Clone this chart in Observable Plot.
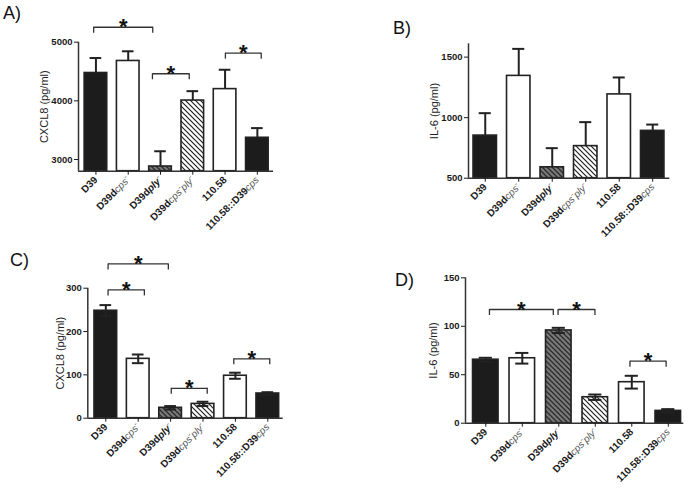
<!DOCTYPE html>
<html><head><meta charset="utf-8">
<script src="https://cdn.jsdelivr.net/npm/d3@7"></script>
<script src="https://cdn.jsdelivr.net/npm/@observablehq/plot@0.6"></script>
<style>
body{margin:0;background:#fff;}
#fig{position:relative;width:689px;height:489px;background:#fff;font-family:"Liberation Sans",Arial,sans-serif;overflow:hidden}
.panel{position:absolute}
.plab{position:absolute;font-size:18px;line-height:18px;color:#111;font-family:"Liberation Sans",Arial,sans-serif}
</style></head><body>
<svg width="0" height="0" style="position:absolute"><defs>
<pattern id="hatchGray" patternUnits="userSpaceOnUse" width="5" height="5"><rect width="5" height="5" fill="#7a7a7a"/><path d="M-1,-1L6,6M-1,4L1,6M4,-1L6,1" stroke="#2b2b2b" stroke-width="1.3"/></pattern>
<pattern id="hatchWhite" patternUnits="userSpaceOnUse" width="5" height="5"><rect width="5" height="5" fill="#ffffff"/><path d="M-1,-1L6,6M-1,4L1,6M4,-1L6,1" stroke="#222" stroke-width="1.2"/></pattern>
</defs></svg>
<div id="fig"></div>
<script>
// ---- data ----
const strains = ["D39", "D39dcps⁻", "D39dply⁻", "D39dcps⁻ply⁻", "110.58", "110.58::D39cps"];
const fills = ["#1c1c1c", "#ffffff", "url(#hatchGray)", "url(#hatchWhite)", "#ffffff", "#1c1c1c"];

const cxcl8A = [4475, 4680, 2880, 4005, 4200, 3370];
const cxcl8AErr = [255, 165, 260, 160, 330, 165];
const il6B = [852, 1345, 590, 765, 1192, 891];
const il6BErr = [185, 223, 158, 198, 140, 52];
const cxcl8C = [248, 137, 24, 33, 98, 57];
const cxcl8CErr = [13, 10, 4, 5, 7, 3];
const il6D = [65.5, 67, 95.7, 26.8, 42.3, 12.7];
const il6DErr = [2, 5.5, 2.7, 2.8, 6.6, 1.8];

const ticksA = [3000, 4000, 5000];
const ticksB = [500, 1000, 1500];
const ticksC = [0, 100, 200, 300];
const ticksD = [0, 50, 100, 150];

// significance brackets: x in category-index units, y in data units
const sigA = [{x1: -0.07, x2: 1.76, y: 5255}, {x1: 1.75, x2: 2.89, y: 4462}, {x1: 4.01, x2: 5.12, y: 4813}];
const sigB = [];
const sigC = [{x1: 0.07, x2: 1.93, y: 356}, {x1: 0.07, x2: 1.19, y: 296}, {x1: 2.02, x2: 3.13, y: 69}, {x1: 3.95, x2: 5.06, y: 137}];
const sigD = [{x1: 0.1, x2: 1.85, y: 117.3}, {x1: 1.98, x2: 2.99, y: 117.3}, {x1: 3.95, x2: 4.94, y: 64}];

const fig = document.getElementById("fig");
const FONT = '"Liberation Sans", Arial, sans-serif';
const svgns = "http://www.w3.org/2000/svg";

function addSpan(t, text, attrs) {
  const ts = document.createElementNS(svgns, "tspan");
  ts.textContent = text;
  for (const k in attrs) ts.setAttribute(k, attrs[k]);
  t.appendChild(ts);
}

function panel(cfg) {
  const rows = strains.map((s, i) => ({i, s, v: cfg.values[i], e: cfg.errs[i]}));
  const [y0, y1] = cfg.yDomain;
  const fh = cfg.height - cfg.marginTop - cfg.marginBottom;
  const unit = (y1 - y0) / fh;
  const hw = 0.35, cw = 0.18;
  const legs = cfg.brackets.flatMap(b => [{x: b.x1, y: b.y}, {x: b.x2, y: b.y}]);
  const plot = Plot.plot({
    width: cfg.width, height: cfg.height,
    marginLeft: cfg.marginLeft, marginRight: cfg.marginRight,
    marginTop: cfg.marginTop, marginBottom: cfg.marginBottom,
    x: {type: "linear", domain: cfg.xDomain},
    y: {domain: cfg.yDomain},
    style: {fontFamily: FONT, background: "transparent", overflow: "visible", color: "#222"},
    marks: [
      Plot.rect(rows, {x1: d => d.i - hw, x2: d => d.i + hw, y1: () => y0, y2: "v", fill: d => fills[d.i], stroke: "#222", strokeWidth: 1.6}),
      Plot.ruleX(rows, {x: "i", y1: d => cfg.twoSided ? d.v - d.e : d.v, y2: d => d.v + d.e, stroke: "#222", strokeWidth: 2}),
      Plot.ruleY(rows, {y: d => d.v + d.e, x1: d => d.i - cw, x2: d => d.i + cw, stroke: "#222", strokeWidth: 2}),
      cfg.twoSided ? Plot.ruleY(rows, {y: d => d.v - d.e, x1: d => d.i - cw, x2: d => d.i + cw, stroke: "#222", strokeWidth: 2}) : null,
      Plot.ruleY([y0], {stroke: "#333", strokeWidth: 1.5}),
      Plot.ruleX([cfg.xDomain[0]], {stroke: "#333", strokeWidth: 1.5}),
      Plot.axisY({ticks: cfg.yTicks, tickFormat: d => String(d), tickSize: 4, tickPadding: 2, fontSize: 9.5, fontWeight: "bold", label: null, color: "#1a1a1a"}),
      Plot.axisX({ticks: d3.range(strains.length), tickFormat: i => strains[i], tickRotate: -45, tickSize: 4, tickPadding: 3, fontSize: 10, fontWeight: "bold", label: null, color: "#1a1a1a"}),
      Plot.text([cfg.yLabel], {text: d => d, frameAnchor: "left", textAnchor: "middle", lineAnchor: "middle", dx: -cfg.labelOffset, rotate: -90, fontSize: 11, fill: "#222"}),
      Plot.link(cfg.brackets, {x1: "x1", x2: "x2", y1: "y", y2: "y", stroke: "#333", strokeWidth: 1.3}),
      Plot.ruleX(legs, {x: "x", y1: "y", y2: d => d.y - 6 * unit, stroke: "#333", strokeWidth: 1.3}),
      Plot.text(cfg.brackets, {x: d => (d.x1 + d.x2) / 2, y: "y", text: () => "*", fontSize: 22, fontWeight: "bold", fill: "#111", dy: 0})
    ]
  });
  // italic gene names and superscript minus inside tick labels
  plot.querySelectorAll('g[aria-label="x-axis tick label"] text').forEach(t => {
    const lbl = t.textContent;
    const parts = lbl.split(/(cps|ply|⁻)/).filter(Boolean);
    t.textContent = "";
    for (const p of parts) {
      if (p === "⁻") {
        addSpan(t, "-", {"baseline-shift": "super", "font-size": "7.5", "font-weight": "normal", "font-style": "italic", "fill": "#555"});
      } else if (p === "cps" || (p === "ply" && lbl.includes("cps"))) {
        addSpan(t, p, {"font-style": "italic", "font-weight": "normal", "fill": "#555"});
      } else if (p === "ply") {
        addSpan(t, p, {"font-style": "italic"});
      } else {
        addSpan(t, p, {});
      }
    }
  });
  const div = document.createElement("div");
  div.className = "panel";
  div.style.left = cfg.left + "px";
  div.style.top = cfg.top + "px";
  div.appendChild(plot);
  fig.appendChild(div);
  const lab = document.createElement("div");
  lab.className = "plab";
  lab.textContent = cfg.tag;
  lab.style.left = cfg.tagX + "px";
  lab.style.top = cfg.tagY + "px";
  fig.appendChild(lab);
}

panel({tag: "A)", tagX: 3, tagY: 3.6, left: 0, top: 0, width: 345, height: 245,
  marginLeft: 78, marginRight: 72, marginTop: 41.7, marginBottom: 74.3,
  xDomain: [-0.54, 5.5], yDomain: [2800, 5000], yTicks: ticksA,
  values: cxcl8A, errs: cxcl8AErr, twoSided: false, yLabel: "CXCL8 (pg/ml)", labelOffset: 34, brackets: sigA});

panel({tag: "B)", tagX: 393, tagY: 18.6, left: 345, top: 0, width: 344, height: 245,
  marginLeft: 123, marginRight: 19.7, marginTop: 43.3, marginBottom: 67.3,
  xDomain: [-0.5, 5.51], yDomain: [500, 1610], yTicks: ticksB,
  values: il6B, errs: il6BErr, twoSided: false, yLabel: "IL-6 (pg/ml)", labelOffset: 34, brackets: sigB});

panel({tag: "C)", tagX: 10, tagY: 250.6, left: 0, top: 245, width: 345, height: 244,
  marginLeft: 87.3, marginRight: 62.3, marginTop: 42.7, marginBottom: 71.3,
  xDomain: [-0.556, 5.475], yDomain: [0, 300], yTicks: ticksC,
  values: cxcl8C, errs: cxcl8CErr, twoSided: true, yLabel: "CXCL8 (pg/ml)", labelOffset: 27, brackets: sigC});

panel({tag: "D)", tagX: 395, tagY: 270.6, left: 345, top: 245, width: 344, height: 244,
  marginLeft: 120, marginRight: 5.7, marginTop: 32.3, marginBottom: 66.3,
  xDomain: [-0.556, 5.425], yDomain: [0, 150], yTicks: ticksD,
  values: il6D, errs: il6DErr, twoSided: true, yLabel: "IL-6 (pg/ml)", labelOffset: 32, brackets: sigD});
</script>
</body></html>
